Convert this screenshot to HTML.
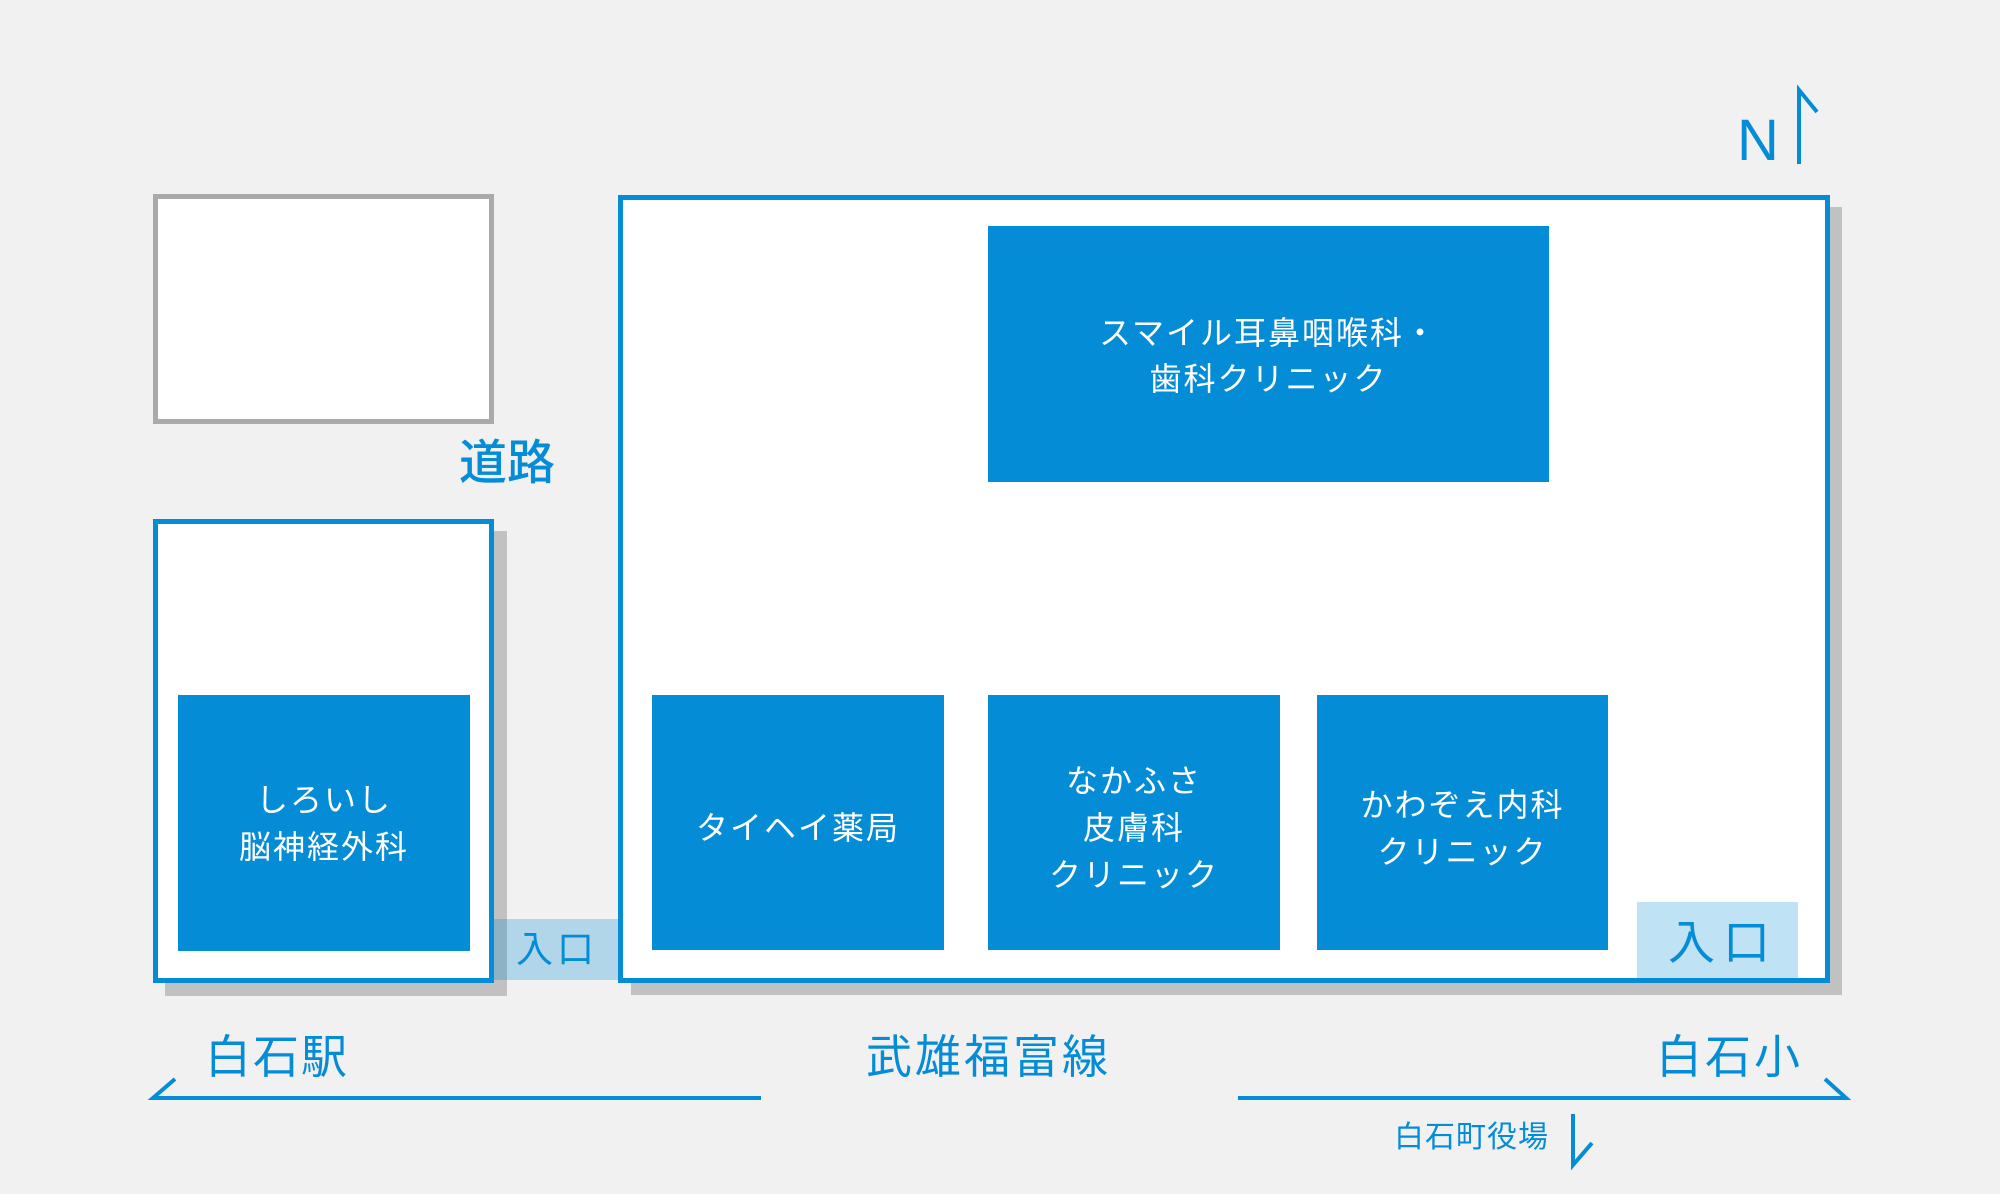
<!DOCTYPE html>
<html><head><meta charset="utf-8"><style>
body{margin:0;width:2000px;height:1194px;background:#f1f1f1;position:relative;overflow:hidden;font-family:"Liberation Sans","Noto Sans CJK JP",sans-serif}
.a{position:absolute;box-sizing:border-box}
.sh{background:#c1c1c1}
.bl{background:#058cd7;color:#fff;display:flex;align-items:center;justify-content:center;text-align:center;font-size:32px;line-height:47px;letter-spacing:2px;padding-top:12px}
.t{position:absolute;color:#058cd7;white-space:nowrap;line-height:1}
</style></head><body>
<div class="a" style="left:153px;top:194px;width:341px;height:230px;border:5px solid #aaa;background:#fff"></div>
<div class="t" style="left:459px;top:440px;font-size:48px;font-weight:500">道路</div>

<div class="a sh" style="left:165px;top:531px;width:342px;height:465px"></div>
<div class="a" style="left:153px;top:519px;width:341px;height:464px;border:5px solid #058cd7;background:#fff"></div>
<div class="a bl" style="left:178px;top:695px;width:292px;height:256px;padding-top:2px">しろいし<br>脳神経外科</div>

<div class="a sh" style="left:631px;top:207px;width:1211px;height:788px"></div>
<div class="a" style="left:618px;top:195px;width:1212px;height:788px;border:5px solid #058cd7;background:#fff"></div>
<div class="a" style="left:494px;top:919px;width:124px;height:61px;background:rgba(5,140,215,0.27)"></div>
<div class="t" style="left:516px;top:931px;font-size:37px;letter-spacing:4px">入口</div>

<div class="a bl" style="left:988px;top:226px;width:561px;height:256px;line-height:46px;letter-spacing:2px;padding-top:4px">スマイル耳鼻咽喉科・<br>歯科クリニック</div>
<div class="a bl" style="left:652px;top:695px;width:292px;height:255px">タイヘイ薬局</div>
<div class="a bl" style="left:988px;top:695px;width:292px;height:255px">なかふさ<br>皮膚科<br>クリニック</div>
<div class="a bl" style="left:1317px;top:695px;width:291px;height:255px">かわぞえ内科<br>クリニック</div>
<div class="a" style="left:1637px;top:902px;width:161px;height:76px;background:#bfe2f4"></div>
<div class="t" style="left:1668px;top:919px;font-size:47px;letter-spacing:8px">入口</div>

<div class="t" style="left:1737px;top:112px;font-size:58px;font-family:'Liberation Sans',sans-serif">N</div>

<div class="t" style="left:205px;top:1034px;font-size:46px;letter-spacing:2px">白石駅</div>
<div class="t" style="left:866px;top:1034px;font-size:46px;letter-spacing:3px">武雄福富線</div>
<div class="t" style="left:1656px;top:1034px;font-size:46px;letter-spacing:3px">白石小</div>
<div class="t" style="left:1394px;top:1123px;font-size:30px;letter-spacing:1px">白石町役場</div>

<svg class="a" style="left:0;top:0" width="2000" height="1194">
<g stroke="#058cd7" fill="none" stroke-width="4">
<polyline points="1799,164 1799,90 1817,112"/>
<polyline points="175,1079 153,1098 761,1098"/>
<polyline points="1238,1098 1846,1098 1825,1079"/>
<polyline points="1573,1114 1573,1165 1592,1143"/>
</g>
</svg>
</body></html>
